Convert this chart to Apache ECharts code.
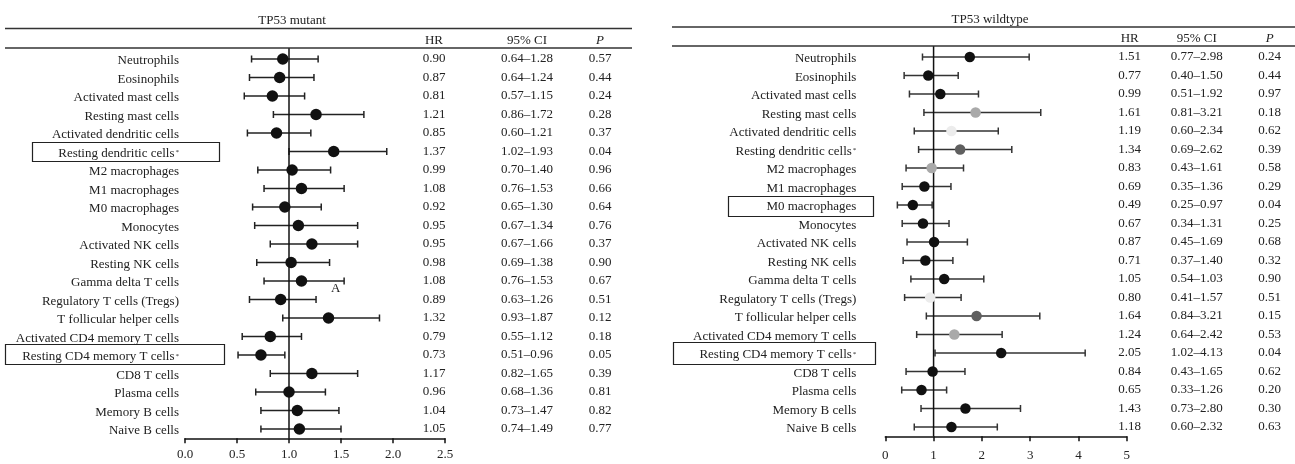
<!DOCTYPE html>
<html>
<head>
<meta charset="utf-8">
<script src="https://cdn.jsdelivr.net/npm/echarts@6/dist/echarts.min.js"></script>
<style>html,body{margin:0;padding:0;background:#fff}#c{width:1295px;height:464px}</style>
</head>
<body>
<div id="c"></div>
<script>
// ---------------- DATA ----------------
const mutCells = ['Neutrophils','Eosinophils','Activated mast cells','Resting mast cells','Activated dendritic cells','Resting dendritic cells*','M2 macrophages','M1 macrophages','M0 macrophages','Monocytes','Activated NK cells','Resting NK cells','Gamma delta T cells','Regulatory T cells (Tregs)','T follicular helper cells','Activated CD4 memory T cells','Resting CD4 memory T cells*','CD8 T cells','Plasma cells','Memory B cells','Naive B cells'];
const wtCells = ['Neutrophils','Eosinophils','Activated mast cells','Resting mast cells','Activated dendritic cells','Resting dendritic cells*','M2 macrophages','M1 macrophages','M0 macrophages','Monocytes','Activated NK cells','Resting NK cells','Gamma delta T cells','Regulatory T cells (Tregs)','T follicular helper cells','Activated CD4 memory T cells','Resting CD4 memory T cells*','CD8 T cells','Plasma cells','Memory B cells','Naive B cells'];

// plotted positions
const mutDot  = [0.94,0.91,0.84,1.26,0.88,1.43,1.03,1.12,0.96,1.09,1.22,1.02,1.12,0.92,1.38,0.82,0.73,1.22,1.00,1.08,1.10];
const mutLow  = [0.64,0.62,0.57,0.85,0.60,1.00,0.70,0.76,0.65,0.67,0.82,0.69,0.76,0.62,0.94,0.55,0.51,0.82,0.68,0.73,0.73];
const mutHigh = [1.28,1.24,1.15,1.72,1.21,1.94,1.40,1.53,1.31,1.66,1.66,1.39,1.53,1.26,1.87,1.12,0.96,1.66,1.35,1.48,1.50];

const wtDot  = [1.75,0.89,1.14,1.87,1.37,1.55,0.96,0.81,0.57,0.78,1.01,0.83,1.22,0.93,1.89,1.43,2.40,0.98,0.75,1.66,1.37];
const wtLow  = [0.77,0.39,0.50,0.80,0.60,0.69,0.43,0.35,0.25,0.35,0.45,0.37,0.53,0.40,0.85,0.65,1.03,0.43,0.34,0.74,0.60];
const wtHigh = [2.98,1.51,1.93,3.22,2.34,2.62,1.62,1.36,0.97,1.32,1.70,1.40,2.04,1.57,3.20,2.42,4.14,1.65,1.27,2.80,2.32];
// shade level of each dot: 0 black, 1 dark grey, 2 mid grey, 3 light grey
const wtShade = [0,0,0,2,3,1,2,0,0,0,0,0,0,3,1,2,0,0,0,0,0];

// reference (no-effect) line
const refHR = 1;

// table texts
const mutHR = ['0.90','0.87','0.81','1.21','0.85','1.37','0.99','1.08','0.92','0.95','0.95','0.98','1.08','0.89','1.32','0.79','0.73','1.17','0.96','1.04','1.05'];
const mutCI = ['0.64–1.28','0.64–1.24','0.57–1.15','0.86–1.72','0.60–1.21','1.02–1.93','0.70–1.40','0.76–1.53','0.65–1.30','0.67–1.34','0.67–1.66','0.69–1.38','0.76–1.53','0.63–1.26','0.93–1.87','0.55–1.12','0.51–0.96','0.82–1.65','0.68–1.36','0.73–1.47','0.74–1.49'];
const mutP  = ['0.57','0.44','0.24','0.28','0.37','0.04','0.96','0.66','0.64','0.76','0.37','0.90','0.67','0.51','0.12','0.18','0.05','0.39','0.81','0.82','0.77'];
const wtHR = ['1.51','0.77','0.99','1.61','1.19','1.34','0.83','0.69','0.49','0.67','0.87','0.71','1.05','0.80','1.64','1.24','2.05','0.84','0.65','1.43','1.18'];
const wtCI = ['0.77–2.98','0.40–1.50','0.51–1.92','0.81–3.21','0.60–2.34','0.69–2.62','0.43–1.61','0.35–1.36','0.25–0.97','0.34–1.31','0.45–1.69','0.37–1.40','0.54–1.03','0.41–1.57','0.84–3.21','0.64–2.42','1.02–4.13','0.43–1.65','0.33–1.26','0.73–2.80','0.60–2.32'];
const wtP  = ['0.24','0.44','0.97','0.18','0.62','0.39','0.58','0.29','0.04','0.25','0.68','0.32','0.90','0.51','0.15','0.53','0.04','0.62','0.20','0.30','0.63'];

const mutTicks = [0, 0.5, 1.0, 1.5, 2.0, 2.5];
const wtTicks = [0, 1, 2, 3, 4, 5];

// ---------------- STYLE ----------------
const FONT = '"Liberation Serif", "DejaVu Serif", serif';
const FS = 13;
const TXT = '#222';
const shadeColors = ['#111111', '#5f5f5f', '#a9a9a9', '#ececec'];

const chart = echarts.init(document.getElementById('c'), null, {renderer: 'canvas'});

function labelFmt(v) {
  if (v.endsWith('*')) return v.slice(0, -1) + '{s|*}';
  return v;
}
const labelRich = {s: {fontSize: 7, fontFamily: FONT, color: TXT, padding: [0, 0, 2, 1]}};

function tableAxis(gridIndex, data, offset, name, italic) {
  return {
    type: 'category', gridIndex, data, inverse: true, position: 'right', offset,
    axisLine: {show: false}, axisTick: {show: false}, splitLine: {show: false},
    axisLabel: {margin: 0, align: 'center', padding: [5, 0, 0, 0], fontFamily: FONT, fontSize: FS, color: TXT},
    name, nameLocation: 'start', nameGap: 3,
    nameTextStyle: {fontFamily: FONT, fontSize: FS, color: TXT, align: 'center', fontStyle: italic ? 'italic' : 'normal'}
  };
}

function errSeries(xi, yi, low, high, color) {
  return {
    type: 'custom', xAxisIndex: xi, yAxisIndex: yi, z: 2,
    data: low.map((l, i) => [l, i, high[i]]),
    renderItem: function (params, api) {
      const idx = api.value(1);
      const p1 = api.coord([api.value(0), idx]);
      const p2 = api.coord([api.value(2), idx]);
      const h = 3.5;
      const st = {stroke: color, lineWidth: 1.5};
      return {type: 'group', children: [
        {type: 'line', shape: {x1: p1[0], y1: p1[1], x2: p2[0], y2: p2[1]}, style: st},
        {type: 'line', shape: {x1: p1[0], y1: p1[1] - h, x2: p1[0], y2: p1[1] + h}, style: st},
        {type: 'line', shape: {x1: p2[0], y1: p2[1] - h, x2: p2[0], y2: p2[1] + h}, style: st}
      ]};
    }
  };
}

function refSeries(xi, yi) {
  return {
    type: 'custom', xAxisIndex: xi, yAxisIndex: yi, z: 3, silent: true,
    data: [[refHR, 0]],
    renderItem: function (params, api) {
      const cs = params.coordSys;
      const p = api.coord([api.value(0), 0]);
      return {type: 'line', shape: {x1: p[0], y1: cs.y - 1.5, x2: p[0], y2: cs.y + cs.height},
              style: {stroke: '#111', lineWidth: 1.5}};
    }
  };
}

const option = {
  animation: false,
  backgroundColor: '#fff',
  textStyle: {fontFamily: FONT},
  title: [
    {text: 'TP53 mutant', left: 287, top: 9, textAlign: 'center', textStyle: {fontFamily: FONT, fontSize: FS, fontWeight: 'normal', color: TXT}},
    {text: 'TP53 wildtype', left: 985, top: 8, textAlign: 'center', textStyle: {fontFamily: FONT, fontSize: FS, fontWeight: 'normal', color: TXT}}
  ],
  grid: [
    {left: 185, top: 49.75, width: 260, height: 388.5},
    {left: 885.3, top: 47.75, width: 241.4, height: 388.5}
  ],
  xAxis: [
    {type: 'value', gridIndex: 0, min: mutTicks[0], max: mutTicks[mutTicks.length - 1], interval: 0.5,
     axisLine: {show: true, lineStyle: {color: '#111', width: 1.5}},
     axisTick: {show: true, length: 5, lineStyle: {color: '#111', width: 1.5}},
     splitLine: {show: false},
     axisLabel: {margin: 10, fontFamily: FONT, fontSize: FS, color: TXT, formatter: v => v.toFixed(1)}},
    {type: 'value', gridIndex: 1, min: wtTicks[0], max: wtTicks[wtTicks.length - 1], interval: 1,
     axisLine: {show: true, lineStyle: {color: '#111', width: 1.5}},
     axisTick: {show: true, length: 5, lineStyle: {color: '#111', width: 1.5}},
     splitLine: {show: false},
     axisLabel: {margin: 13, fontFamily: FONT, fontSize: FS, color: TXT, formatter: v => String(v)}}
  ],
  yAxis: [
    {type: 'category', gridIndex: 0, data: mutCells, inverse: true, position: 'left',
     axisLine: {show: false}, axisTick: {show: false}, splitLine: {show: false},
     axisLabel: {margin: 6, padding: [4, 0, 0, 0], fontFamily: FONT, fontSize: FS, color: TXT, formatter: labelFmt, rich: labelRich}},
    tableAxis(0, mutHR, -11, 'HR', false),
    tableAxis(0, mutCI, 82, '95% CI', false),
    tableAxis(0, mutP, 155, 'P', true),
    {type: 'category', gridIndex: 1, data: wtCells, inverse: true, position: 'left',
     axisLine: {show: false}, axisTick: {show: false}, splitLine: {show: false},
     axisLabel: {margin: 29, padding: [4, 0, 0, 0], fontFamily: FONT, fontSize: FS, color: TXT, formatter: labelFmt, rich: labelRich}},
    tableAxis(1, wtHR, 3, 'HR', false),
    tableAxis(1, wtCI, 70, '95% CI', false),
    tableAxis(1, wtP, 143, 'P', true)
  ],
  series: [
    errSeries(0, 0, mutLow, mutHigh, '#222'),
    refSeries(0, 0),
    {type: 'scatter', xAxisIndex: 0, yAxisIndex: 0, z: 5, symbolSize: 11.5,
     data: mutDot.map((d, i) => [d, i]), itemStyle: {color: '#111', opacity: 1}},
    errSeries(1, 4, wtLow, wtHigh, '#333'),
    refSeries(1, 4),
    {type: 'scatter', xAxisIndex: 1, yAxisIndex: 4, z: 5, symbolSize: 10.5,
     data: wtDot.map((d, i) => ({value: [d, i], itemStyle: {color: shadeColors[wtShade[i]]}})),
     itemStyle: {opacity: 1}}
  ],
  graphic: [
    {type: 'line', shape: {x1: 5, y1: 28.5, x2: 632, y2: 28.5}, style: {stroke: '#333', lineWidth: 1.5}},
    {type: 'line', shape: {x1: 5, y1: 48, x2: 632, y2: 48}, style: {stroke: '#333', lineWidth: 1.5}},
    {type: 'line', shape: {x1: 672, y1: 27, x2: 1295, y2: 27}, style: {stroke: '#333', lineWidth: 1.5}},
    {type: 'line', shape: {x1: 672, y1: 46, x2: 1295, y2: 46}, style: {stroke: '#333', lineWidth: 1.5}},
    {type: 'rect', shape: {x: 32.5, y: 142.5, width: 187, height: 19}, style: {fill: 'none', stroke: '#222', lineWidth: 1.2}},
    {type: 'rect', shape: {x: 5.5, y: 344.5, width: 219, height: 20}, style: {fill: 'none', stroke: '#222', lineWidth: 1.2}},
    {type: 'rect', shape: {x: 728.5, y: 196.5, width: 145, height: 20}, style: {fill: 'none', stroke: '#222', lineWidth: 1.2}},
    {type: 'rect', shape: {x: 673.5, y: 342.5, width: 202, height: 22}, style: {fill: 'none', stroke: '#222', lineWidth: 1.2}},
    {type: 'text', x: 331, y: 282, style: {text: 'A', font: FS + 'px ' + FONT, fill: TXT}}
  ]
};
chart.setOption(option);
</script>
</body>
</html>
